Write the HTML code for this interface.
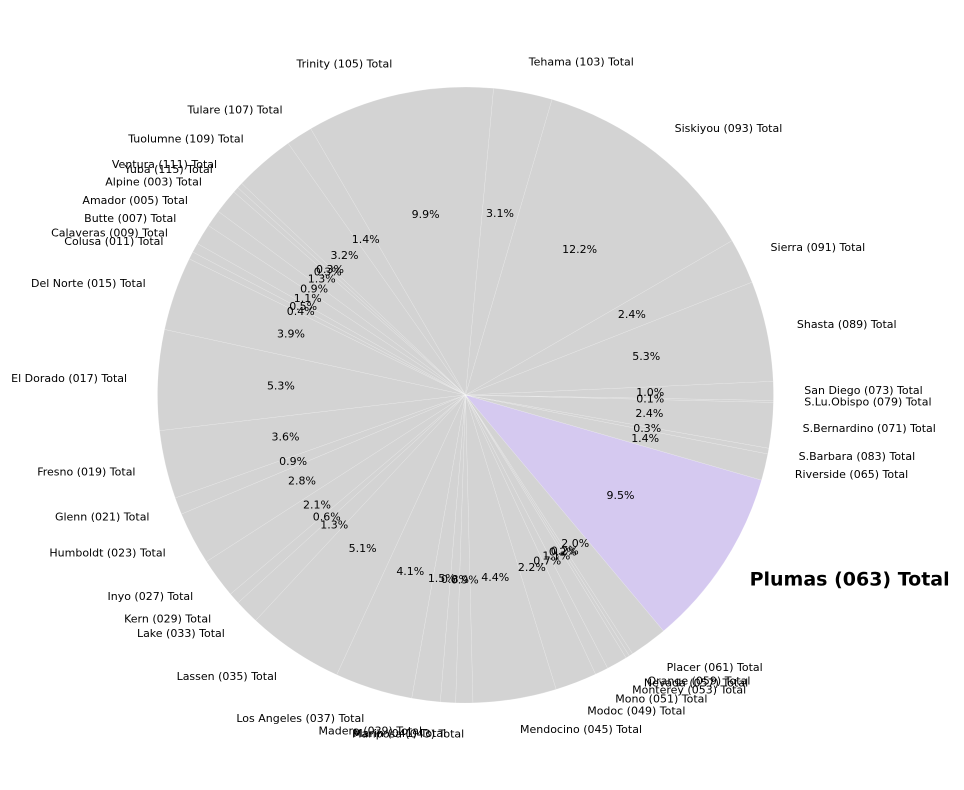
<!DOCTYPE html>
<html><head><meta charset="utf-8">
<style>
html,body{margin:0;padding:0;background:#fff;}
svg{display:block;font-family:"DejaVu Sans","Liberation Sans",sans-serif;}
</style></head>
<body>
<svg id="chart" width="964" height="790" viewBox="0 0 964 790" xmlns="http://www.w3.org/2000/svg">
<g id="wedges"></g>
<g id="labels"></g>
</svg>
<script>
const categories = ["Plumas (063) Total","Riverside (065) Total","S.Barbara (083) Total","S.Bernardino (071) Total","S.Lu.Obispo (079) Total","San Diego (073) Total","Shasta (089) Total","Sierra (091) Total","Siskiyou (093) Total","Tehama (103) Total","Trinity (105) Total","Tulare (107) Total","Tuolumne (109) Total","Ventura (111) Total","Yuba (115) Total","Alpine (003) Total","Amador (005) Total","Butte (007) Total","Calaveras (009) Total","Colusa (011) Total","Del Norte (015) Total","El Dorado (017) Total","Fresno (019) Total","Glenn (021) Total","Humboldt (023) Total","Inyo (027) Total","Kern (029) Total","Lake (033) Total","Lassen (035) Total","Los Angeles (037) Total","Madera (039) Total","Marin (041) Total","Mariposa (043) Total","Mendocino (045) Total","Modoc (049) Total","Mono (051) Total","Monterey (053) Total","Nevada (057) Total","Orange (059) Total","Placer (061) Total"];
const values = [9.5,1.4,0.3,2.4,0.1,1.0,5.3,2.4,12.2,3.1,9.9,1.4,3.2,0.3,0.3,1.3,0.9,1.1,0.5,0.4,3.9,5.3,3.6,0.9,2.8,2.1,0.6,1.3,5.1,4.1,1.5,0.8,0.9,4.4,2.2,0.7,1.1,0.2,0.2,2.0];
const highlighted = ["Plumas (063) Total"];

const cx = 465.5, cy = 395, R = 308, startAngle = -50;
const total = values.reduce((a,b)=>a+b,0);
const NS = "http://www.w3.org/2000/svg";
const gw = document.getElementById('wedges');
const gl = document.getElementById('labels');
function pt(deg, r){ const a = deg*Math.PI/180; return [cx + r*Math.cos(a), cy - r*Math.sin(a)]; }
function slug(s){ return s.toLowerCase().replace(/[^a-z0-9]+/g,'-').replace(/^-|-$/g,''); }
let acc = startAngle;
categories.forEach((name,i)=>{
  const span = values[i]/total*360;
  const a0 = acc, a1 = acc + span; acc = a1;
  const hl = highlighted.includes(name);
  const [x0,y0] = pt(a0,R), [x1,y1] = pt(a1,R);
  const large = span > 180 ? 1 : 0;
  const p = document.createElementNS(NS,'path');
  p.setAttribute('d', `M${cx},${cy} L${x0},${y0} A${R},${R} 0 ${large} 0 ${x1},${y1} Z`);
  p.setAttribute('fill', hl ? '#d5c9f0' : '#d3d3d3');
  p.setAttribute('stroke', 'rgba(255,255,255,0.3)');
  p.setAttribute('stroke-width', '0.5');
  
  
  gw.appendChild(p);
  const mid = (a0+a1)/2;
  const [lx,ly] = pt(mid, R*1.1);
  const t = document.createElementNS(NS,'text');
  t.setAttribute('x', lx); t.setAttribute('y', ly);
  t.setAttribute('text-anchor', Math.cos(mid*Math.PI/180) >= 0 ? 'start' : 'end');
  t.setAttribute('dominant-baseline', 'central');
  t.setAttribute('font-size', hl ? '19' : '11');
  if (hl) t.setAttribute('font-weight', 'bold');
  t.setAttribute('fill', '#000');
  t.textContent = name;
  
  
  gl.appendChild(t);
  const [px,py] = pt(mid, R*0.6);
  const pc = document.createElementNS(NS,'text');
  pc.setAttribute('x', px); pc.setAttribute('y', py);
  pc.setAttribute('text-anchor', 'middle');
  pc.setAttribute('dominant-baseline', 'central');
  pc.setAttribute('font-size', '11');
  pc.setAttribute('fill', '#000');
  pc.textContent = values[i].toFixed(1) + '%';
  
  
  gl.appendChild(pc);
});
</script>
</body></html>
